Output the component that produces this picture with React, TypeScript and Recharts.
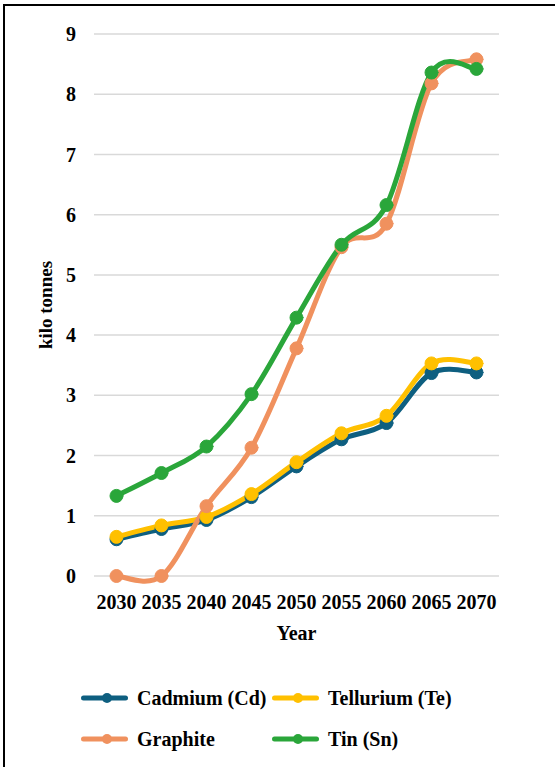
import React from 'react';
import { LineChart, Line, XAxis, YAxis, CartesianGrid, Label } from 'recharts';

const years = ['2030', '2035', '2040', '2045', '2050', '2055', '2060', '2065', '2070'];
const cadmium = [0.61, 0.78, 0.93, 1.31, 1.82, 2.27, 2.54, 3.37, 3.38];
const tellurium = [0.65, 0.84, 0.98, 1.36, 1.89, 2.37, 2.66, 3.53, 3.53];
const graphite = [0, 0, 1.16, 2.13, 3.78, 5.46, 5.85, 8.18, 8.58];
const tin = [1.33, 1.71, 2.15, 3.02, 4.29, 5.5, 6.16, 8.36, 8.42];
const yTicks = [0, 1, 2, 3, 4, 5, 6, 7, 8, 9];

const series = [
  { key: 'cadmium', name: 'Cadmium (Cd)', color: '#0E5F80', values: cadmium },
  { key: 'tellurium', name: 'Tellurium (Te)', color: '#FFC000', values: tellurium },
  { key: 'graphite', name: 'Graphite', color: '#F0915E', values: graphite },
  { key: 'tin', name: 'Tin (Sn)', color: '#2AA63A', values: tin },
];

const data = years.map((year, i) => {
  const row: Record<string, any> = { year };
  series.forEach((s) => {
    row[s.key] = s.values[i];
  });
  return row;
});

const FONT = '"Liberation Serif", "Times New Roman", serif';

// Catmull-Rom style bezier smoothing (overshoots a little, like office charts do)
const smoothCurve = (context: any) => {
  let pts: number[][] = [];
  return {
    areaStart() {},
    areaEnd() {},
    lineStart() {
      pts = [];
    },
    point(x: number, y: number) {
      pts.push([+x, +y]);
    },
    lineEnd() {
      if (!pts.length) return;
      context.moveTo(pts[0][0], pts[0][1]);
      for (let i = 0; i < pts.length - 1; i++) {
        const p0 = pts[i - 1] || pts[i];
        const p1 = pts[i];
        const p2 = pts[i + 1];
        const p3 = pts[i + 2] || p2;
        context.bezierCurveTo(
          p1[0] + (p2[0] - p0[0]) / 6,
          p1[1] + (p2[1] - p0[1]) / 6,
          p2[0] - (p3[0] - p1[0]) / 6,
          p2[1] - (p3[1] - p1[1]) / 6,
          p2[0],
          p2[1]
        );
      }
    },
  };
};

const YTitle = ({ viewBox }: any) => {
  const x = viewBox.x + 11;
  const y = viewBox.y + viewBox.height / 2;
  return (
    <text
      x={x}
      y={y}
      transform={`rotate(-90, ${x}, ${y})`}
      textAnchor="middle"
      dominantBaseline="central"
      fontFamily={FONT}
      fontWeight="bold"
      fontSize={19}
      fill="#000"
    >
      kilo tonnes
    </text>
  );
};

const LegendBlock = () => (
  <div
    style={{
      position: 'absolute',
      left: 81,
      top: 685,
      display: 'grid',
      gridTemplateColumns: '191px auto',
      rowGap: 15,
      fontFamily: FONT,
      fontWeight: 'bold',
      fontSize: 20,
      color: '#000',
    }}
  >
    {series.map((s) => (
      <div key={s.key} style={{ display: 'flex', alignItems: 'center', height: 26 }}>
        <svg width={47} height={12} style={{ marginRight: 9 }}>
          <line x1={2.5} y1={6} x2={44.5} y2={6} stroke={s.color} strokeWidth={5} strokeLinecap="round" />
          <circle cx={26} cy={6} r={5} fill={s.color} />
        </svg>
        <span>{s.name}</span>
      </div>
    ))}
  </div>
);

export default function App() {
  return (
    <div style={{ position: 'absolute', left: 0, top: 0, width: 555, height: 767, background: '#fff' }}>
      <div
        style={{
          position: 'absolute',
          left: 3,
          top: 4,
          width: 552,
          height: 763,
          borderLeft: '2px solid #000',
          borderTop: '2px solid #000',
          boxSizing: 'border-box',
        }}
      />
      <LineChart
        width={555}
        height={767}
        data={data}
        margin={{ top: 34, right: 56, left: 34, bottom: 121 }}
        style={{ position: 'absolute', left: 0, top: 0 }}
      >
        <CartesianGrid vertical={false} stroke="#D9D9D9" strokeWidth={1.5} />
        <XAxis
          dataKey="year"
          height={70}
          padding={{ left: 22.5, right: 22.5 }}
          axisLine={false}
          tickLine={false}
          tickMargin={13}
          tick={{ fill: '#000', fontFamily: FONT, fontWeight: 'bold', fontSize: 20 }}
          interval={0}
        >
          <Label
            value="Year"
            position="insideBottom"
            offset={6}
            fill="#000"
            fontFamily={FONT}
            fontWeight="bold"
            fontSize={20}
          />
        </XAxis>
        <YAxis
          width={60}
          domain={[0, 9]}
          ticks={yTicks}
          axisLine={false}
          tickLine={false}
          tickMargin={12}
          tick={{ fill: '#000', fontFamily: FONT, fontWeight: 'bold', fontSize: 20 }}
        >
          <Label content={<YTitle />} />
        </YAxis>
        {series.map((s) => (
          <Line
            key={s.key}
            dataKey={s.key}
            name={s.name}
            type={smoothCurve as any}
            stroke={s.color}
            strokeWidth={5}
            strokeLinecap="round"
            strokeLinejoin="round"
            dot={{ r: 6.5, fill: s.color, stroke: s.color, strokeWidth: 1 }}
            activeDot={false}
            isAnimationActive={false}
          />
        ))}
      </LineChart>
      <LegendBlock />
    </div>
  );
}
